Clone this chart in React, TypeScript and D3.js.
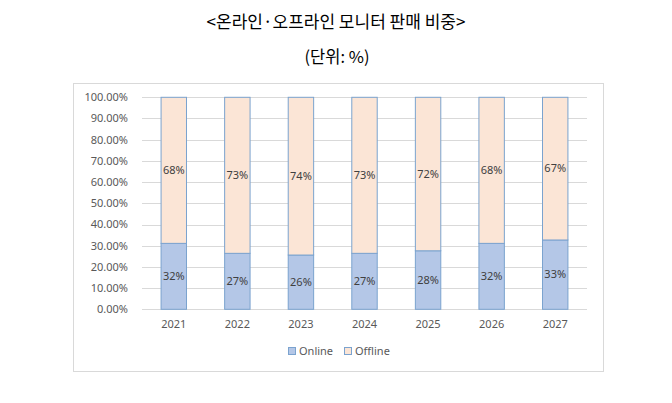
import React from "react";
import * as d3 from "d3";

const years = ["2021", "2022", "2023", "2024", "2025", "2026", "2027"];
const onlineShare = [31.1, 26.4, 25.6, 26.4, 27.6, 31.1, 32.7];
const offlineShare = [68.9, 73.6, 74.4, 73.6, 72.4, 68.9, 67.3];
const onlineLabels = ["32%", "27%", "26%", "27%", "28%", "32%", "33%"];
const offlineLabels = ["68%", "73%", "74%", "73%", "72%", "68%", "67%"];
const yTicks = [0, 10, 20, 30, 40, 50, 60, 70, 80, 90, 100];
const seriesNames = ["Online", "Offline"];

const W = 672;
const H = 403;
const plot = { left: 142, right: 587, top: 97.3, bottom: 309.3 };
const font = "'Noto Sans', 'Noto Sans CJK KR', sans-serif";
const kfont = "'Noto Sans CJK KR', 'Noto Sans', sans-serif";
const onlineFill = "#B4C7E7";
const offlineFill = "#FBE5D6";
const barStroke = "#7BA3CF";
const textColor = "#595959";

export default function App() {
  const x = d3.scaleBand<string>().domain(years).range([plot.left, plot.right]).paddingInner(0.6).paddingOuter(0.3);
  const y = d3.scaleLinear().domain([0, 100]).range([plot.bottom, plot.top]);
  const bw = x.bandwidth();

  return (
    <svg width={W} height={H} style={{ position: "absolute", left: 0, top: 0 }}>
      <rect x={0} y={0} width={W} height={H} fill="#fff" />
      <text x={336} y={28} textAnchor="middle" fontFamily={kfont} fontSize={17} fill="#000">
        {"<온라인·오프라인 모니터 판매 비중>"}
      </text>
      <text x={337} y={63} textAnchor="middle" fontFamily={kfont} fontSize={16.5} fill="#000">
        (단위: %)
      </text>
      <rect x={73.5} y={83.5} width={530} height={288} fill="none" stroke="#D9D9D9" strokeWidth={1} />
      {yTicks.map((t) => (
        <g key={t}>
          <line x1={plot.left} x2={plot.right} y1={Math.round(y(t)) + 0.5} y2={Math.round(y(t)) + 0.5} stroke="#D9D9D9" strokeWidth={1} />
          <text x={128} y={y(t)} dy="0.35em" textAnchor="end" fontFamily={font} fontSize={11} fill={textColor}>
            {t.toFixed(2)}%
          </text>
        </g>
      ))}
      {years.map((yr, i) => {
        const x0 = x(yr)!;
        const on = onlineShare[i];
        const off = offlineShare[i];
        return (
          <g key={yr}>
            <rect x={x0} y={y(on)} width={bw} height={y(0) - y(on)} fill={onlineFill} stroke={barStroke} strokeWidth={1} />
            <rect x={x0} y={y(on + off)} width={bw} height={y(on) - y(on + off)} fill={offlineFill} stroke={barStroke} strokeWidth={1} />
            <text x={x0 + bw / 2} y={y(on / 2)} dy="0.35em" textAnchor="middle" fontFamily={font} fontSize={11} fill="#404040">
              {onlineLabels[i]}
            </text>
            <text x={x0 + bw / 2} y={y(on + off / 2)} dy="0.35em" textAnchor="middle" fontFamily={font} fontSize={11} fill="#404040">
              {offlineLabels[i]}
            </text>
            <text x={x0 + bw / 2} y={324} dy="0.35em" textAnchor="middle" fontFamily={font} fontSize={11} fill={textColor}>
              {yr}
            </text>
          </g>
        );
      })}
      {seriesNames.map((name, i) => {
        const lx = i === 0 ? 288 : 344;
        return (
          <g key={name}>
            <rect x={lx + 0.5} y={347.5} width={7} height={7} fill={i === 0 ? onlineFill : offlineFill} stroke={barStroke} strokeWidth={1} />
            <text x={lx + 11} y={351} dy="0.35em" fontFamily={font} fontSize={11} fill={textColor}>
              {name}
            </text>
          </g>
        );
      })}
    </svg>
  );
}
